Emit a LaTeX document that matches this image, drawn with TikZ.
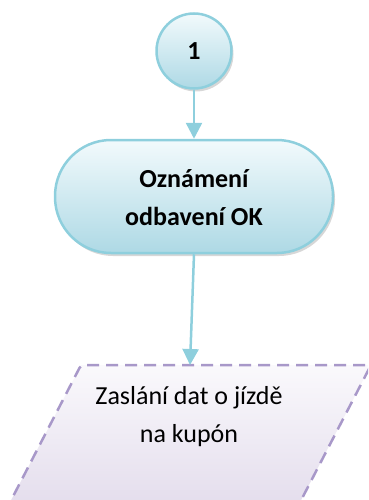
\documentclass[tikz,border=0pt]{standalone}
\usepackage{fontspec}
\setmainfont{Carlito}
\usetikzlibrary{arrows.meta,shadows}
\definecolor{edgeblue}{HTML}{8ECFDD}
\definecolor{filltop}{HTML}{F2FAFC}
\definecolor{fillbot}{HTML}{AED9E5}
\definecolor{paledge}{HTML}{A898C9}
\definecolor{paltop}{HTML}{FAF9FC}
\definecolor{palbot}{HTML}{E3DCEC}
\begin{document}
\begin{tikzpicture}[x=1pt,y=1pt,
  flow/.style={draw=edgeblue,line width=2.5pt,-{Triangle[length=16pt,width=16pt]}},
  shadowed/.style={drop shadow={shadow xshift=2pt,shadow yshift=-3pt,fill=gray!70,opacity=0.45}},
  connector/.style={circle,draw=edgeblue,line width=2.5pt,top color=filltop,bottom color=fillbot,
    minimum size=75pt,inner sep=0pt,font=\fontsize{26}{30}\selectfont\bfseries,shadowed},
  terminal/.style={rectangle,rounded corners=56pt,draw=edgeblue,line width=2.5pt,top color=filltop,bottom color=fillbot,
    minimum width=278pt,minimum height=113pt,inner sep=0pt,shadowed},
  label/.style={align=center,font=\fontsize{26}{38}\selectfont},
]
\useasboundingbox (0,0) rectangle (368,-500);
\begin{scope}
  \clip (0,0) rectangle (368,-500);
  \shade[top color=paltop,bottom color=palbot] (5,-512) -- (81,-365) -- (371,-365) -- (295,-512) -- cycle;
  \draw[draw=paledge,line width=2.5pt,dash pattern=on 12pt off 7pt,rounded corners=3pt]
    (5,-512) -- (81,-365) -- (371,-365) -- (295,-512);
\end{scope}
\coordinate (ptop) at (190,-365);
\node[label] (p1) at (189,-417) {Zaslání dat o jízdě\\na kupón};

\node[connector] (c1) at (194,-51) {1};
\node[terminal] (t1) at (194,-196.5) {};
\node[label,font=\fontsize{26}{38}\selectfont\bfseries] (t1text) at (194,-198) {Oznámení\\odbavení OK};

\draw[flow] (c1.south) -- (t1.north);
\draw[flow] (t1.south) -- (ptop);
\end{tikzpicture}
\end{document}
